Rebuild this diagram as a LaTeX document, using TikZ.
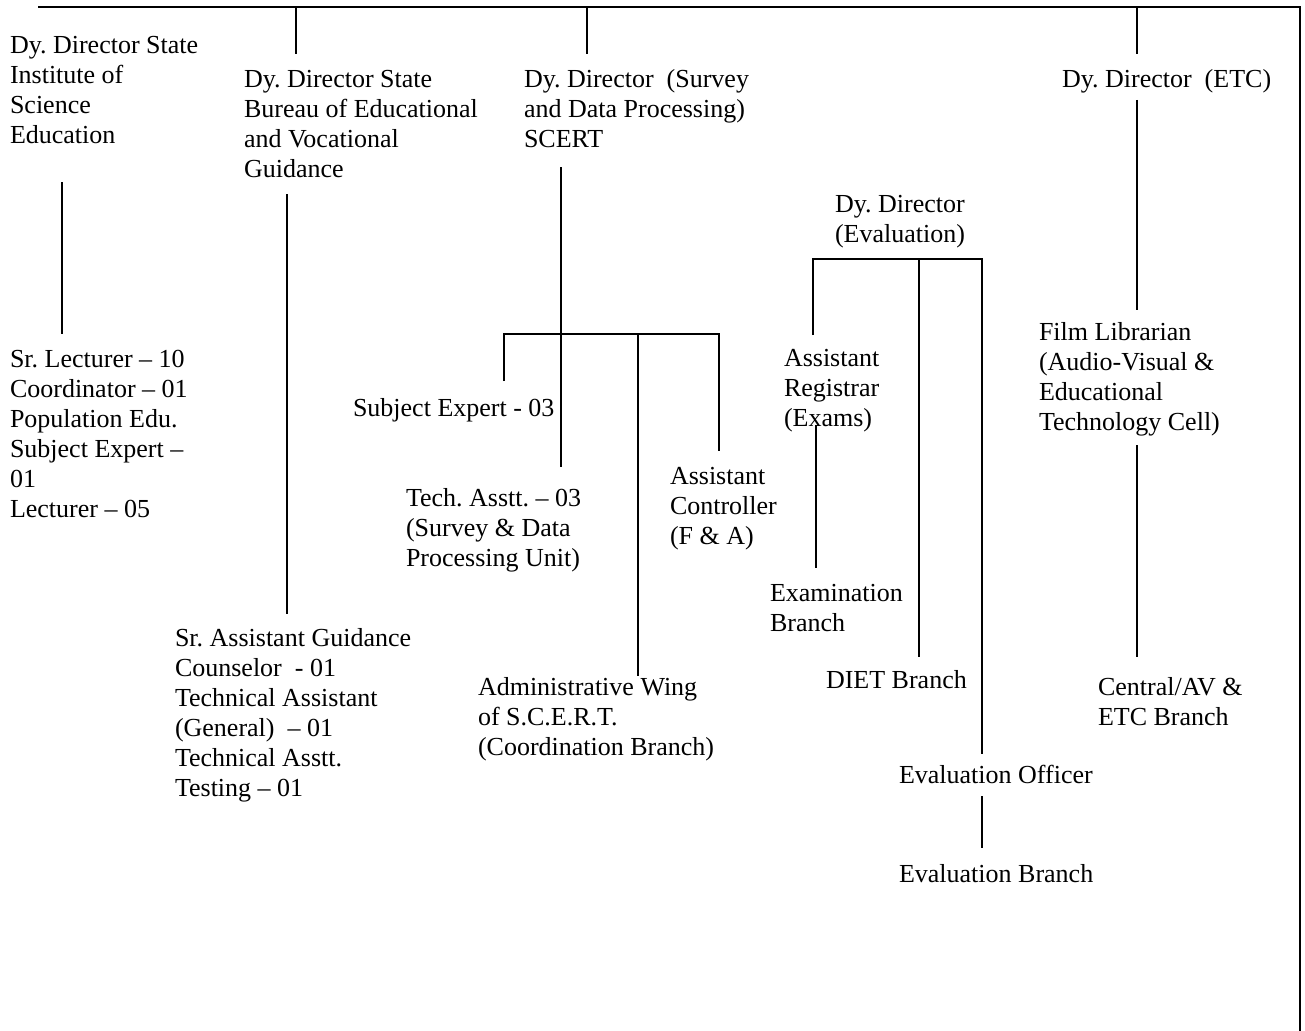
\documentclass[tikz,border=0pt]{standalone}
\usepackage{fontspec}
\setmainfont{Liberation Serif}
\frenchspacing
\begin{document}
\begin{tikzpicture}[x=1pt,y=-1pt,
  lbl/.style={anchor=north west,inner sep=0pt,outer sep=0pt,align=left,
    font=\fontsize{26}{30}\selectfont\frenchspacing},
  conn/.style={line width=2pt,line cap=butt}]
\useasboundingbox (0,0) rectangle (1305,1030);
% ---------- text nodes ----------
\node[lbl] (sise) at (10,32) {\strut Dy. Director State\\Institute of\\Science\\Education};
\node[lbl] (siseS) at (10,346) {\strut Sr. Lecturer – 10\\Coordinator – 01\\Population Edu.\\Subject Expert –\\01\\Lecturer – 05};
\node[lbl] (sbev) at (244,66) {\strut Dy. Director State\\Bureau of Educational\\and Vocational\\Guidance};
\node[lbl] (sbevS) at (175,625) {\strut Sr. Assistant Guidance\\Counselor\ \ - 01\\Technical Assistant\\(General)\ \ – 01\\Technical Asstt.\\Testing – 01};
\node[lbl] (sdp) at (524,66) {\strut Dy. Director\ \ (Survey\\and Data Processing)\\SCERT};
\node[lbl] (sexp) at (353,395) {\strut Subject Expert - 03};
\node[lbl] (tech) at (406,485) {\strut Tech. Asstt. – 03\\(Survey \& Data\\Processing Unit)};
\node[lbl] (actl) at (670,463) {\strut Assistant\\Controller\\(F \& A)};
\node[lbl] (admw) at (478,674) {\strut Administrative Wing\\of S.C.E.R.T.\\(Coordination Branch)};
\node[lbl] (eval) at (835,191) {\strut Dy. Director\\(Evaluation)};
\node[lbl] (areg) at (784,345) {\strut Assistant\\Registrar\\(Exams)};
\node[lbl] (exbr) at (770,580) {\strut Examination\\Branch};
\node[lbl] (diet) at (826,667) {\strut DIET Branch};
\node[lbl] (evof) at (899,762) {\strut Evaluation Officer};
\node[lbl] (evbr) at (899,861) {\strut Evaluation Branch};
\node[lbl] (etc) at (1062,67) {\strut Dy. Director\ \ (ETC)};
\node[lbl] (film) at (1039,319) {\strut Film Librarian\\(Audio-Visual \&\\Educational\\Technology Cell)};
\node[lbl] (cent) at (1098,674) {\strut Central/AV \&\\ETC Branch};
% ---------- connector end points ----------
\coordinate (topL) at (38,7);
\coordinate (topR) at (1300,7);
\coordinate (botR) at (1300,1031);
\coordinate (d2) at (296,7);   \coordinate (d2e) at (296,54);
\coordinate (d3) at (587,7);   \coordinate (d3e) at (587,54);
\coordinate (d4) at (1137,7);  \coordinate (d4e) at (1137,54);
\coordinate (s1a) at (62,182);  \coordinate (s1b) at (62,334);
\coordinate (s2a) at (287,194); \coordinate (s2b) at (287,614);
\coordinate (s3a) at (561,167); \coordinate (s3b) at (561,467);
\coordinate (b3L) at (504,334); \coordinate (b3R) at (719,334);
\coordinate (b3Le) at (504,381); \coordinate (b3Re) at (719,451);
\coordinate (b3M) at (638,334); \coordinate (b3Me) at (638,676);
\coordinate (b4L) at (813,259); \coordinate (b4R) at (982,259);
\coordinate (b4Le) at (813,335); \coordinate (b4Re) at (982,754);
\coordinate (b4M) at (919,259); \coordinate (b4Me) at (919,657);
\coordinate (ara) at (816,425); \coordinate (arb) at (816,568);
\coordinate (eoa) at (982,796); \coordinate (eob) at (982,848);
\coordinate (e1a) at (1137,100); \coordinate (e1b) at (1137,310);
\coordinate (e2a) at (1137,445); \coordinate (e2b) at (1137,657);
% ---------- connectors ----------
\draw[conn] (topL) -- (topR) -- (botR);
\draw[conn] (d2) -- (d2e);
\draw[conn] (d3) -- (d3e);
\draw[conn] (d4) -- (d4e);
\draw[conn] (s1a) -- (s1b);
\draw[conn] (s2a) -- (s2b);
\draw[conn] (s3a) -- (s3b);
\draw[conn] (b3Le) -- (b3L) -- (b3R) -- (b3Re);
\draw[conn] (b3M) -- (b3Me);
\draw[conn] (b4Le) -- (b4L) -- (b4R) -- (b4Re);
\draw[conn] (b4M) -- (b4Me);
\draw[conn] (ara) -- (arb);
\draw[conn] (eoa) -- (eob);
\draw[conn] (e1a) -- (e1b);
\draw[conn] (e2a) -- (e2b);
\end{tikzpicture}
\end{document}
